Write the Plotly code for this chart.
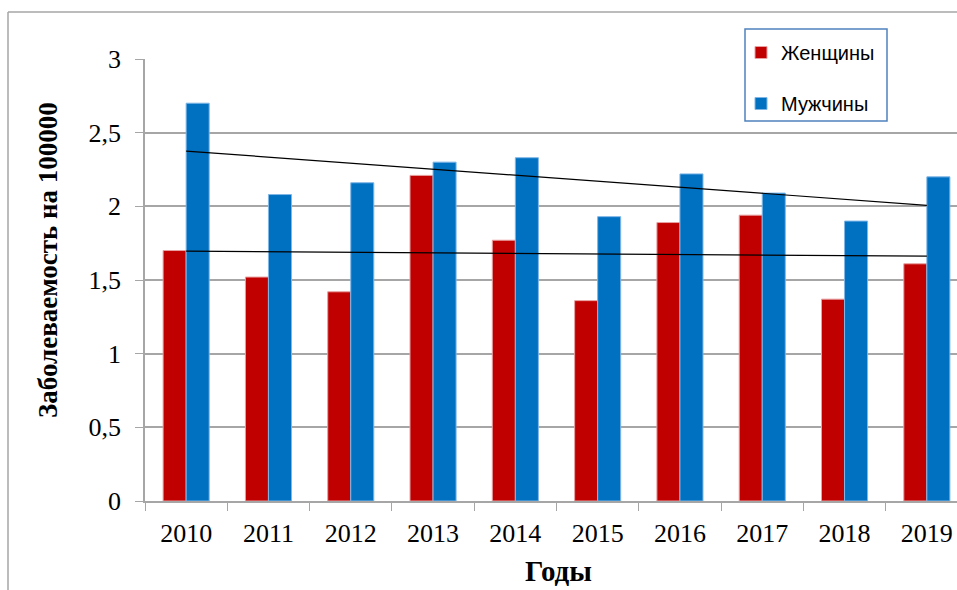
import numpy as np
import plotly.graph_objects as go

years = ["2010", "2011", "2012", "2013", "2014", "2015", "2016", "2017", "2018", "2019"]
women = [1.70, 1.52, 1.42, 2.21, 1.77, 1.36, 1.89, 1.94, 1.37, 1.61]
men = [2.70, 2.08, 2.16, 2.30, 2.33, 1.93, 2.22, 2.09, 1.90, 2.20]
y_ticks = [0, 0.5, 1, 1.5, 2, 2.5, 3]

W, H = 957, 590
L, R, T, B = 145, 0, 59, 89
pw, ph = W - L - R, H - T - B

def px(x):
    return (x - L) / pw

def py(y):
    return (H - B - y) / ph

idx = np.arange(len(years))
def trend(vals):
    k, b = np.polyfit(idx, vals, 1)
    return list(k * idx + b)

fig = go.Figure()
fig.add_trace(go.Bar(x=years, y=women, name="Женщины", marker_color="#C00000",
                     marker_line=dict(color="#E8A0A0", width=1), legendgroup="w"))
fig.add_trace(go.Bar(x=years, y=men, name="Мужчины", marker_color="#0070C0",
                     marker_line=dict(color="#7FB6E6", width=1), legendgroup="m"))
fig.add_trace(go.Scatter(x=years, y=trend(women), mode="lines", line=dict(color="black", width=1.2),
                         showlegend=False, hoverinfo="skip"))
fig.add_trace(go.Scatter(x=years, y=trend(men), mode="lines", line=dict(color="black", width=1.2),
                         showlegend=False, hoverinfo="skip"))

cat_w = 82.3
fig.update_layout(
    width=W, height=H,
    margin=dict(l=L, r=R, t=T, b=B),
    paper_bgcolor="white", plot_bgcolor="white",
    separators=", ",
    barmode="group", bargap=0.44, bargroupgap=0,
    font=dict(family="Liberation Serif", color="black"),
    xaxis=dict(type="category", range=[-0.5, -0.5 + pw / cat_w], tickson="boundaries",
               ticks="outside", ticklen=8, tickcolor="#A6A6A6", showline=True, linecolor="#A6A6A6",
               linewidth=1.5, showgrid=False, ticklabelstandoff=8,
               tickfont=dict(size=26, family="Liberation Serif")),
    yaxis=dict(range=[0, 3], tickvals=y_ticks, ticks="outside", ticklen=8, tickcolor="#A6A6A6",
               showline=True, linecolor="#A6A6A6", linewidth=1.5, showgrid=True,
               gridcolor="#A6A6A6", gridwidth=1.5, zeroline=False, ticklabelstandoff=9,
               tickfont=dict(size=26, family="Liberation Serif")),
    legend=dict(x=px(741), y=py(33), xanchor="left", yanchor="top", bgcolor="rgba(0,0,0,0)",
                borderwidth=0, tracegroupgap=22,
                font=dict(family="Liberation Sans", size=20, color="black"),
                itemwidth=30),
    showlegend=True,
)

fig.add_shape(type="rect", xref="paper", yref="paper", x0=px(745), x1=px(887), y0=py(121), y1=py(29),
              line=dict(color="#4F81BD", width=1.5), fillcolor="white", layer="above")

fig.add_annotation(text="<b>Заболеваемость на 100000</b>", xref="paper", yref="paper",
                   x=px(48), y=py(260), xanchor="center", yanchor="middle", textangle=-90,
                   showarrow=False, font=dict(size=27, family="Liberation Serif"))
fig.add_annotation(text="<b>Годы</b>", xref="paper", yref="paper",
                   x=px(558), y=py(571), xanchor="center", yanchor="middle", showarrow=False,
                   font=dict(size=29, family="Liberation Serif"))

fig.add_shape(type="line", xref="paper", yref="paper", x0=px(8), x1=px(8), y0=py(12), y1=py(600),
              line=dict(color="#A6A6A6", width=1.5))
fig.add_shape(type="line", xref="paper", yref="paper", x0=px(8), x1=px(970), y0=py(12), y1=py(12),
              line=dict(color="#A6A6A6", width=1.5))

fig.write_html("out.html")
